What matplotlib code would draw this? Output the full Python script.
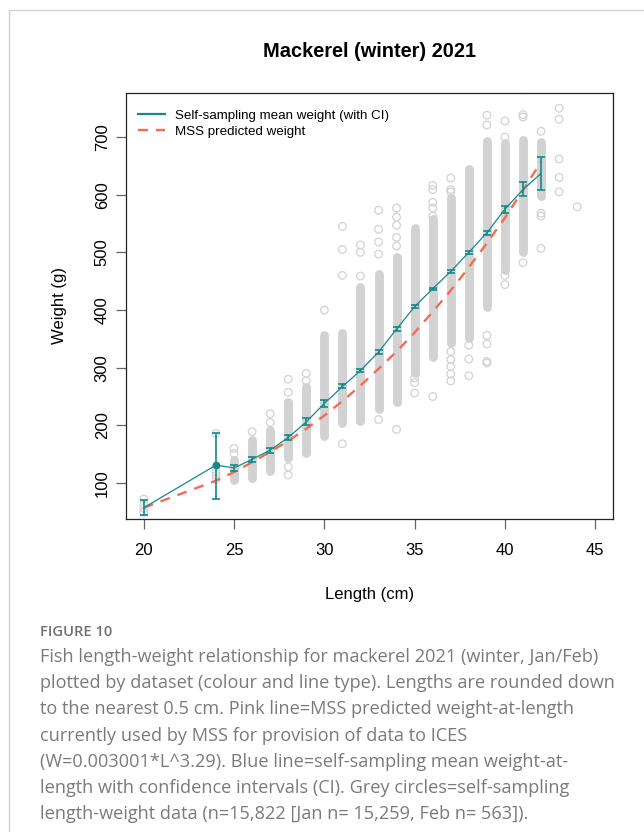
import numpy as np
import matplotlib as mpl
mpl.use("Agg")
import matplotlib.pyplot as plt
from matplotlib.lines import Line2D

mpl.rcParams.update({
    "font.family": ["Liberation Sans", "DejaVu Sans"],
    "font.size": 12,
})

TEAL = "#138a8a"
CORAL = "#f36c52"
GREY = "#d2d2d2"

# self-sampling mean weight-at-length with CI
lengths = [20, 24, 25, 26, 27, 28, 29, 30, 31, 32, 33, 34, 35, 36, 37, 38, 39, 40, 41, 42]
mean_wt = [57, 131, 126, 141, 157, 179, 206, 238, 267, 295, 327, 367, 406, 437, 467, 500, 534, 575, 609, 637]
ci_lo = [45, 73, 121, 137, 152, 175, 201, 232, 264, 292, 324, 364, 403, 435, 465, 498, 531, 569, 597, 609]
ci_hi = [71, 187, 132, 145, 161, 184, 212, 244, 271, 298, 330, 370, 409, 439, 469, 502, 537, 580, 622, 666]

# MSS predicted weight
mss_wt = [57, 104, 119, 136, 154, 173, 194, 217, 242, 269, 298, 328, 361, 397, 434, 474, 516, 560, 608, 657]

# grey raw data: dense part of each length column (lo..hi) ...
band_len = [25, 26, 27, 28, 29, 30, 31, 32, 33, 34, 35, 36, 37, 38, 39, 40, 41, 42]
band_lo = [106, 108, 120, 143, 152, 182, 204, 208, 228, 240, 290, 318, 342, 352, 406, 470, 500, 598]
band_hi = [140, 175, 192, 241, 267, 356, 361, 440, 462, 492, 543, 558, 595, 645, 693, 690, 695, 692]

# ... and the separate circles
out_len = ([20] * 4 + [24] * 5 + [25] * 2 + [26] + [27] * 2 + [28] * 4 + [29] * 2 + [30]
           + [31] * 4 + [32] * 3 + [33] * 5 + [34] * 6 + [35] * 3 + [36] * 6 + [37] * 8
           + [38] * 3 + [39] * 6 + [40] * 4 + [41] * 4 + [42] * 4 + [43] * 5 + [44])
out_wt = [72, 63, 56, 49,
          186, 128, 120, 113, 106,
          160, 151,
          189,
          220, 205,
          280, 257, 128, 114,
          290, 277,
          400,
          545, 505, 460, 168,
          513, 500, 459,
          573, 540, 518, 497, 210,
          577, 561, 547, 526, 511, 193,
          282, 274, 256,
          616, 609, 587, 577, 563, 250,
          629, 609, 605, 328, 314, 302, 289, 277,
          339, 315, 286,
          738, 721, 356, 341, 311, 308,
          728, 700, 460, 444,
          782, 739, 735, 482,
          710, 568, 563, 507,
          750, 731, 662, 630, 605,
          579]

caption_lines = [
    "Fish length-weight relationship for mackerel 2021 (winter, Jan/Feb)",
    "plotted by dataset (colour and line type). Lengths are rounded down",
    "to the nearest 0.5 cm. Pink line=MSS predicted weight-at-length",
    "currently used by MSS for provision of data to ICES",
    "(W=0.003001*L^3.29). Blue line=self-sampling mean weight-at-",
    "length with confidence intervals (CI). Grey circles=self-sampling",
    "length-weight data (n=15,822 [Jan n= 15,259, Feb n= 563]).",
]

W, H = 644, 832
fig = plt.figure(figsize=(W / 100, H / 100), dpi=100)
ax = fig.add_axes([125.7 / W, 1 - 519 / H, 487.6 / W, 426.3 / H])

# raw data
lc = ax.vlines(band_len, band_lo, band_hi, color=GREY, lw=6.4, zorder=1)
lc.set_capstyle("round")
ax.scatter(out_len, out_wt, s=30, facecolor="none", edgecolor=GREY, lw=0.9, zorder=1)

# predicted + mean with CI
ax.plot(lengths, mss_wt, color=CORAL, lw=1.7, dashes=(4.2, 3.4), zorder=3)
lo_err = np.array(mean_wt) - np.array(ci_lo)
hi_err = np.array(ci_hi) - np.array(mean_wt)
ax.errorbar(lengths, mean_wt, yerr=[lo_err, hi_err], fmt="none", ecolor=TEAL,
            elinewidth=1.2, capsize=3.2, capthick=1.2, zorder=4)
ax.plot(lengths, mean_wt, "-o", color=TEAL, lw=0.9, ms=4.5, markevery=[1], zorder=5)

ax.set_xlim(19, 46)
ax.set_ylim(37.5, 777)
ax.set_xticks([20, 25, 30, 35, 40, 45])
ax.set_yticks([100, 200, 300, 400, 500, 600, 700])
ax.tick_params(length=7, width=0.9, color="#666666", labelsize=12)
ax.tick_params(axis="x", pad=10)
ax.tick_params(axis="y", pad=4.5)
for t in ax.get_yticklabels():
    t.set_rotation(90)
    t.set_va("center")
for s in ax.spines.values():
    s.set_linewidth(0.9)
    s.set_color("#222222")

ax.set_xlabel("Length (cm)", fontsize=12, labelpad=21)
ax.set_ylabel("Weight (g)", fontsize=12, labelpad=20)
ax.set_title("Mackerel (winter) 2021", fontsize=14.4, fontweight="bold", pad=25.5)

handles = [Line2D([], [], color=TEAL, lw=1.6),
           Line2D([], [], color=CORAL, lw=1.7, dashes=(4.2, 3.4))]
ax.legend(handles, ["Self-sampling mean weight (with CI)", "MSS predicted weight"],
          loc="upper left", bbox_to_anchor=(0.025, 0.961), frameon=False, fontsize=9.6,
          handlelength=2.0, handletextpad=0.8, labelspacing=0.3, borderpad=0, borderaxespad=0)

# card border (top and left edges)
fig.add_artist(Line2D([8.5 / W, 1], [1 - 9.5 / H, 1 - 9.5 / H], color="#d4d4d4", lw=1,
                      transform=fig.transFigure))
fig.add_artist(Line2D([8.5 / W, 8.5 / W], [0, 1 - 9.5 / H], color="#d4d4d4", lw=1,
                      transform=fig.transFigure))

# caption
cap_font = ["Open Sans", "DejaVu Sans"]
fig.text(40 / W, 1 - 632 / H, "FIGURE 10", fontsize=10.6, fontweight="semibold",
         color="#707070", family=cap_font, va="center")
for i, line in enumerate(caption_lines):
    fig.text(40 / W, 1 - (657 + i * 26.2) / H, line, fontsize=13.1, color="#7a7a7a",
             family=cap_font, va="center")

fig.savefig("out.png", dpi=100)
